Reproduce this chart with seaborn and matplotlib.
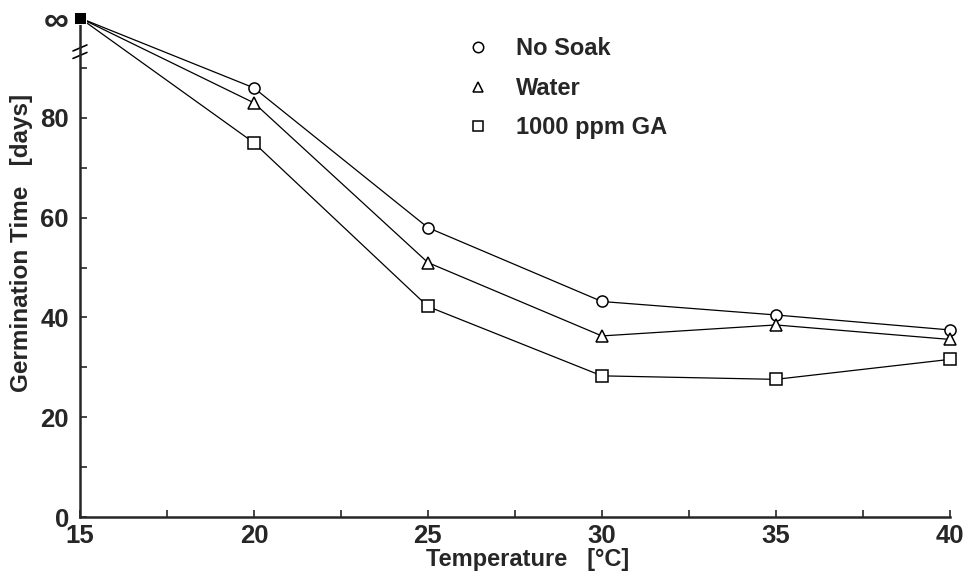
import numpy as np
import pandas as pd
import matplotlib
matplotlib.use("Agg")
import matplotlib.pyplot as plt
from matplotlib.lines import Line2D
import seaborn as sns

# ---- data ----
temperature = [15, 20, 25, 30, 35, 40]
no_soak = [100, 86, 58, 43.2, 40.5, 37.5]
water = [100, 83, 51, 36.3, 38.5, 35.6]
ga_1000 = [100, 75, 42.2, 28.3, 27.6, 31.6]
series_names = ["No Soak", "Water", "1000 ppm GA"]
series_markers = ["o", "^", "s"]
y_ticks = [0, 20, 40, 60, 80, 100]
y_ticklabels = ["0", "20", "40", "60", "80", "\u221e"]
x_ticks = [15, 20, 25, 30, 35, 40]

df = pd.DataFrame({
    "Temperature": temperature * 3,
    "Time": no_soak + water + ga_1000,
    "Treatment": sum([[n] * len(temperature) for n in series_names], []),
})

sns.set_style("ticks")
plt.rcParams["font.family"] = ["Liberation Sans", "DejaVu Sans"]
plt.rcParams["font.weight"] = "bold"

fig = plt.figure(figsize=(9.67, 5.72), dpi=100)
ax = fig.add_axes([0.0827, 0.096, 0.8995, 0.8725])

sns.lineplot(data=df, x="Temperature", y="Time", hue="Treatment",
             style="Treatment", palette=["black"] * 3,
             markers=dict(zip(series_names, series_markers)), dashes=False,
             legend=False, ax=ax, linewidth=0.9, markersize=8, sort=True)

for line in ax.get_lines():
    line.set_markerfacecolor("white")
    line.set_markeredgecolor("black")
    line.set_markeredgewidth(1.1)
    line.set_markevery(list(range(1, len(temperature))))
    line.set_clip_on(False)

# infinity point (all series start there)
start = df[df["Temperature"] == temperature[0]].iloc[:1]
sns.scatterplot(data=start, x="Temperature", y="Time", marker="s", color="black",
                s=75, ax=ax, zorder=5, clip_on=False, legend=False)

ax.set_xlim(15, 40)
ax.set_ylim(0, 100)
ax.set_xticks(x_ticks)
ax.set_xticks([17.5, 22.5, 27.5, 32.5, 37.5], minor=True)
ax.set_yticks(y_ticks)
ax.set_yticklabels(y_ticklabels)
ax.set_yticks([10, 30, 50, 70, 90], minor=True)

for lab in ax.get_yticklabels():
    lab.set_fontweight("bold")
    lab.set_fontsize(18.5)
ax.get_yticklabels()[-1].set_fontsize(25)
for lab in ax.get_xticklabels():
    lab.set_fontweight("bold")
    lab.set_fontsize(18.5)

ax.tick_params(axis="both", which="both", direction="in", length=5, width=1.2)
ax.tick_params(axis="y", pad=8)
ax.tick_params(axis="x", pad=5)

sns.despine(ax=ax)
for s in ["left", "bottom"]:
    ax.spines[s].set_linewidth(1.8)

# axis break marks
for yy in [0.925, 0.94]:
    ax.plot([-0.008, 0.008], [yy - 0.006, yy + 0.006], transform=ax.transAxes,
            color="black", lw=1.2, clip_on=False)

ax.set_xlabel("Temperature   [\u00b0C]", fontsize=17, fontweight="bold")
ax.set_ylabel("Germination Time   [days]", fontsize=17.5, fontweight="bold")
ax.yaxis.set_label_coords(-0.054, 0.549)
ax.xaxis.set_label_coords(0.515, -0.062)

handles = [Line2D([], [], marker=m, ls="none", mfc="white", mec="black",
                  mew=1.1, ms=7.5) for m in series_markers]
ax.legend(handles, series_names, loc="upper left", bbox_to_anchor=(0.42, 1.004),
          frameon=False, prop={"weight": "bold", "size": 17},
          handlelength=1.0, handletextpad=1.1, labelspacing=0.7)

fig.savefig("out.png", dpi=100)
